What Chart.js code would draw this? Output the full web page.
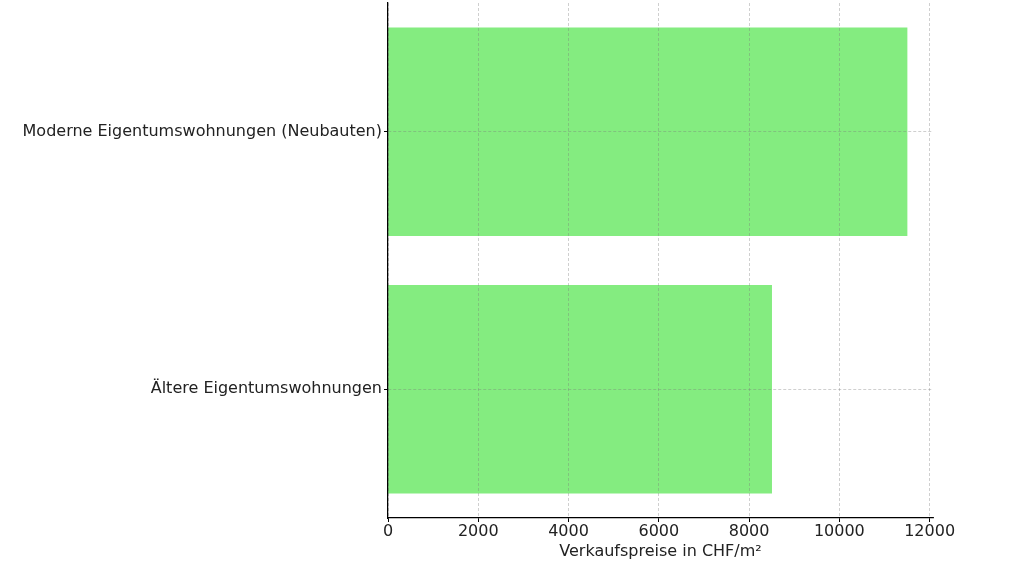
<!DOCTYPE html>
<html lang="en">
  <head>
    <meta charset="UTF-8" />
    <title>Verkaufspreise</title>
    <script src="https://cdn.jsdelivr.net/npm/chart.js"></script>
    <style>
      body { margin: 0; background: #fff; }
      #wrap { width: 1018px; height: 565px; }
    </style>
  </head>
  <body>
    <div id="wrap"><canvas id="chart" width="1018" height="565"></canvas></div>
    <script>
      // Data
      const categories = ["Moderne Eigentumswohnungen (Neubauten)", "Ältere Eigentumswohnungen"];
      const prices = [11500, 8500];
      const xTicks = [0, 2000, 4000, 6000, 8000, 10000, 12000];

      const font = { family: "DejaVu Sans", size: 16 };
      const gridStyle = {
        z: 1,
        color: "rgba(120, 120, 120, 0.45)",
        lineWidth: 0.8,
        tickColor: "#000",
        tickBorderDash: [],
        tickLength: 4,
        tickWidth: 1,
      };
      const borderStyle = { z: 2, color: "#000", width: 1.25, dash: [3, 2] };

      new Chart(document.getElementById("chart").getContext("2d"), {
        type: "bar",
        data: {
          labels: categories,
          datasets: [
            {
              data: prices,
              backgroundColor: "#84ec80",
              borderWidth: 0,
              barThickness: 208,
            },
          ],
        },
        options: {
          indexAxis: "y",
          responsive: false,
          animation: false,
          layout: { padding: { top: 3, right: 85, left: 0, bottom: 0 } },
          plugins: { legend: { display: false }, tooltip: { enabled: false } },
          scales: {
            x: {
              min: 0,
              max: 12075,
              afterBuildTicks: (s) => { s.ticks = xTicks.map((v) => ({ value: v })); },
              afterFit: (s) => {
                s.height = 47;
                s.paddingLeft = 0;
                s.paddingRight = 0;
              },
              grid: gridStyle,
              border: borderStyle,
              ticks: {
                color: "#222",
                font: font,
                padding: 0,
                maxRotation: 0,
                callback: (v) => String(v),
              },
              title: {
                display: true,
                text: "Verkaufspreise in CHF/m²",
                color: "#222",
                font: font,
                padding: { top: 0, bottom: 4 },
              },
            },
            y: {
              afterFit: (s) => {
                s.width = 388;
                s.paddingTop = 0;
                s.paddingBottom = 0;
              },
              grid: Object.assign({ offset: false }, gridStyle),
              border: borderStyle,
              ticks: { color: "#222", font: font, padding: 2 },
            },
          },
        },
      });
    </script>
  </body>
</html>
